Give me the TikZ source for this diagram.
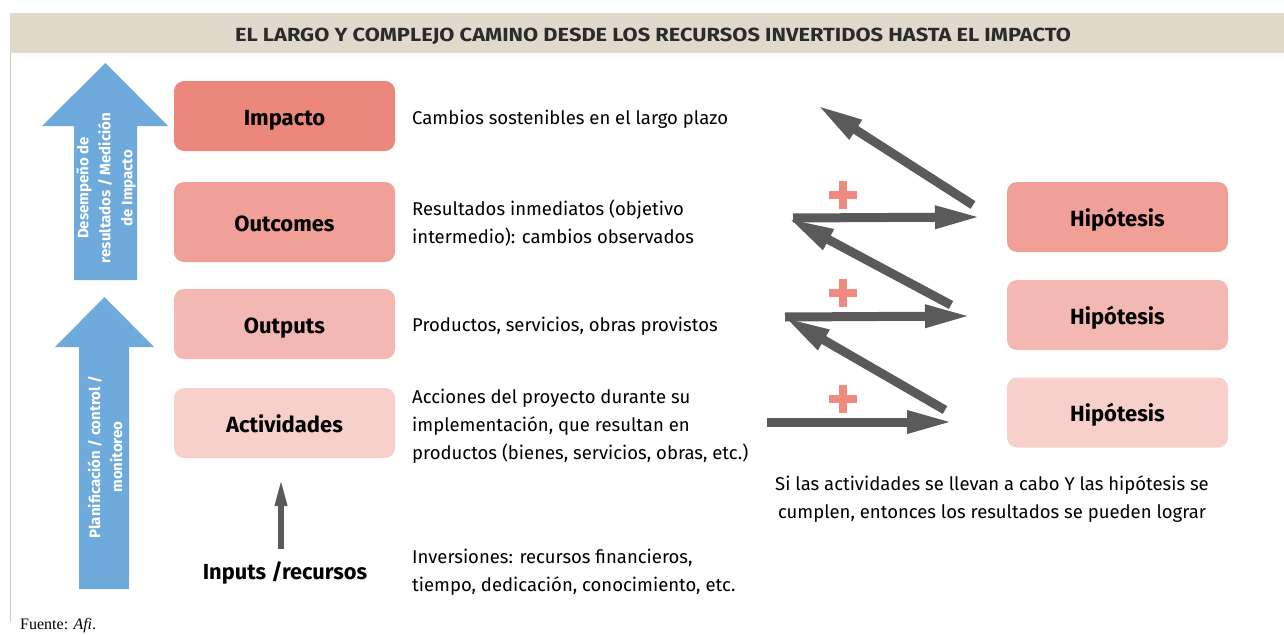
\documentclass[tikz,border=0pt]{standalone}
\usepackage{fontspec}
\setmainfont{Fira Sans}
\newfontfamily\serifx{Liberation Serif}
\usetikzlibrary{arrows.meta}
\definecolor{headbg}{HTML}{DFDACB}
\definecolor{headtxt}{HTML}{2B2B2B}
\definecolor{frameline}{HTML}{CFC7B2}
\definecolor{cA}{HTML}{EC877C}
\definecolor{cB}{HTML}{F0A096}
\definecolor{cC}{HTML}{F3B8B1}
\definecolor{cD}{HTML}{F7D0CB}
\definecolor{bluearr}{HTML}{6FAADC}
\definecolor{grayarr}{HTML}{5A5A5A}
\definecolor{pluscol}{HTML}{EF8A80}
\tikzset{
  box/.style={rounded corners=10pt, minimum width=221pt, minimum height=70pt, inner sep=0pt,
    text height=18pt, text depth=0pt,
    font=\bfseries\fontsize{22}{24}\selectfont, text=black},
  desc/.style={anchor=west, align=left, inner sep=0pt, font=\fontsize{18.5}{28}\selectfont, text=black},
  bluetxt/.style={rotate=90, align=center, inner sep=0pt, text=white, font=\bfseries\fontsize{15}{22}\selectfont},
  grayarrow/.style={draw=grayarr, line width=9pt, -{Triangle[length=46pt,width=21pt]}},
  smallarrow/.style={draw=grayarr, line width=6pt, -{Triangle[length=29pt,width=11pt]}},
}
\begin{document}
\begin{tikzpicture}[x=1pt,y=-1pt]
\useasboundingbox (0,0) rectangle (1284,634);
% header
\fill[headbg] (10,13) rectangle (1284,53);
\node[font=\bfseries\fontsize{19}{20}\selectfont, text=headtxt, inner sep=0pt] (title) at (653,36.5)
  {\scalebox{1.15}[1]{EL LARGO Y COMPLEJO CAMINO DESDE LOS RECURSOS INVERTIDOS HASTA EL IMPACTO}};
\draw[frameline, line width=0.8pt] (10,53) -- (10,622);
% blue arrows
\fill[bluearr] (74,280) -- (74,126) -- (42,126) -- (105.5,63) -- (168,126) -- (137,126) -- (137,280) -- cycle;
\fill[bluearr] (79,589) -- (79,347) -- (55,347) -- (104.5,297) -- (154,347) -- (129,347) -- (129,589) -- cycle;
\node[bluetxt] (perf) at (106,188) {Desempeño de\\resultados / Medición\\de Impacto};
\node[bluetxt] (plan) at (105,457) {Planificación / control /\\monitoreo};
% left boxes
\node[box, fill=cA] (impacto) at (284.5,116) {Impacto};
\node[box, fill=cB, minimum height=80pt] (outcomes) at (284.5,222) {Outcomes};
\node[box, fill=cC] (outputs) at (284.5,324) {Outputs};
\node[box, fill=cD] (activ) at (284.5,423) {Actividades};
% descriptions
\node[desc] (dImp) at (412,119) {Cambios sostenibles en el largo plazo};
\node[desc] (dOutc) at (412,223) {Resultados inmediatos (objetivo\\intermedio): cambios observados};
\node[desc] (dOutp) at (412,326) {Productos, servicios, obras provistos};
\node[desc] (dAct) at (412,426.5) {Acciones del proyecto durante su\\implementación, que resultan en\\productos (bienes, servicios, obras, etc.)};
\node[desc] (dInp) at (412,572.5) {Inversiones: recursos financieros,\\tiempo, dedicación, conocimiento, etc.};
% inputs
\node[inner sep=0pt, font=\bfseries\fontsize{21.8}{24}\selectfont] (inputs) at (285,573) {Inputs /recursos};
\coordinate (inTop) at (281,477);
\coordinate (inBot) at (281,549);
\draw[smallarrow] (inBot) -- (inTop);
% hypothesis boxes
\node[box, fill=cB] (h1) at (1117.5,217) {Hipótesis};
\node[box, fill=cC] (h2) at (1117.5,315) {Hipótesis};
\node[box, fill=cD] (h3) at (1117.5,412.5) {Hipótesis};
% zigzag arrows
\coordinate (b1s) at (767,422); \coordinate (b1e) at (953,422);
\coordinate (d1s) at (945,410); \coordinate (d1e) at (784,317);
\coordinate (m1s) at (785,317); \coordinate (m1e) at (971,316);
\coordinate (d2s) at (951,305); \coordinate (d2e) at (788,218);
\coordinate (t1s) at (793,218); \coordinate (t1e) at (981,217);
\coordinate (d3s) at (973,205); \coordinate (d3e) at (817,105);
\draw[grayarrow] (b1s) -- (b1e);
\draw[grayarrow] (d1s) -- (d1e);
\draw[grayarrow] (m1s) -- (m1e);
\draw[grayarrow] (d2s) -- (d2e);
\draw[grayarrow] (t1s) -- (t1e);
\draw[grayarrow] (d3s) -- (d3e);
% plus signs
\foreach \py in {195,293,399}{
  \fill[pluscol] (829,\py-4) rectangle (857,\py+4);
  \fill[pluscol] (839,\py-14) rectangle (847,\py+14);
}
% note
\node[align=center, inner sep=0pt, font=\fontsize{18.5}{28}\selectfont] (note) at (992,499)
  {Si las actividades se llevan a cabo Y las hipótesis se\\cumplen, entonces los resultados se pueden lograr};
% source
\node[anchor=base west, inner sep=0pt, font=\serifx\fontsize{16}{18}\selectfont] (src) at (20,629) {Fuente: \textit{Afi}.};
\end{tikzpicture}
\end{document}
